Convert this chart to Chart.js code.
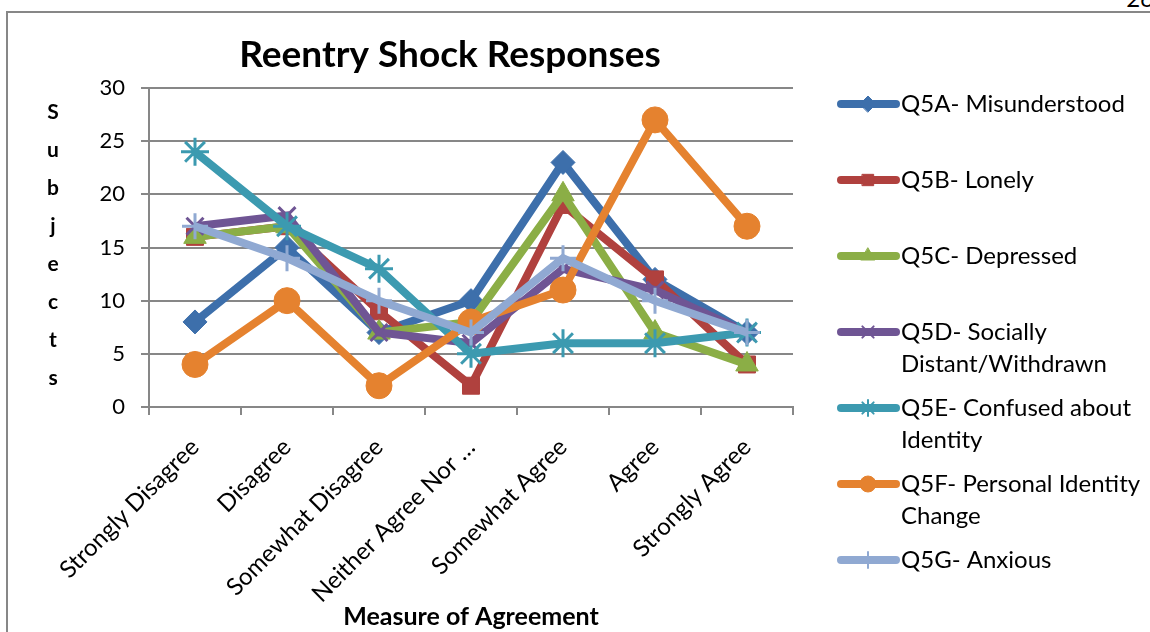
<!DOCTYPE html>
<html>
<head>
<meta charset="utf-8">
<script src="https://cdn.jsdelivr.net/npm/chart.js@4"></script>
<style>
  body { margin: 0; background: #fff; overflow: hidden; }
  #frame { position: absolute; left: 6px; top: 11px; width: 1200px; height: 700px; border: 2px solid #878787; }
  #pg { position: absolute; right: -4px; top: -17px; font: 24px Lato, sans-serif; }
  #wrap { position: absolute; left: 0; top: 0; width: 1150px; height: 632px; }
</style>
</head>
<body>
<div id="frame"></div>
<div id="pg">26</div>
<div id="wrap"><canvas id="c" width="1150" height="632"></canvas></div>
<script>
// values
var categories = ["Strongly Disagree", "Disagree", "Somewhat Disagree", "Neither Agree Nor \u2026", "Somewhat Agree", "Agree", "Strongly Agree"];
var seriesNames = ["Q5A- Misunderstood", "Q5B- Lonely", "Q5C- Depressed", "Q5D- Socially Distant/Withdrawn", "Q5E- Confused about Identity", "Q5F- Personal Identity Change", "Q5G- Anxious"];
var q5a = [8, 15, 7, 10, 23, 12, 7];
var q5b = [16, 17, 9, 2, 19, 12, 4];
var q5c = [16, 17, 7, 8, 20, 7, 4];
var q5d = [17, 18, 7, 6, 13, 11, 7];
var q5e = [24, 17, 13, 5, 6, 6, 7];
var q5f = [4, 10, 2, 8, 11, 27, 17];
var q5g = [17, 14, 10, 7, 14, 10, 7];
var yTicks = [0, 5, 10, 15, 20, 25, 30];
var chartTitle = "Reentry Shock Responses";
var yTitle = "Subjects";
var xTitle = "Measure of Agreement";

var colors = ["#3d6fab", "#b0413e", "#8bae46", "#6f5594", "#3c9ab0", "#e5822f", "#90a9d2"];
var styles = ["rectRot", "rect", "triangle", "crossRot", "star", "circle", "cross"];
var radii = [12, 12, 13, 12, 14, 13, 13];
var allData = [q5a, q5b, q5c, q5d, q5e, q5f, q5g];
var FONT = "Lato, sans-serif";

var datasets = [];
for (var i = 0; i < allData.length; i++) {
  var open = styles[i] == "crossRot" || styles[i] == "star" || styles[i] == "cross";
  datasets.push({
    label: seriesNames[i],
    data: allData[i],
    borderColor: colors[i],
    backgroundColor: colors[i],
    borderWidth: 8,
    pointStyle: styles[i],
    pointRadius: radii[i],
    pointHoverRadius: radii[i],
    pointBorderWidth: open ? 3 : 1,
    pointBorderColor: colors[i],
    pointBackgroundColor: colors[i],
    tension: 0,
    order: allData.length - i
  });
}

function wrapText(ctx, text, maxW) {
  var words = text.split(" ");
  var lines = [];
  var cur = "";
  words.forEach(function(w) {
    var t = cur ? cur + " " + w : w;
    if (ctx.measureText(t).width > maxW && cur) {
      lines.push(cur);
      cur = w;
    } else {
      cur = t;
    }
  });
  if (cur) lines.push(cur);
  return lines;
}

var extras = {
  id: "extras",
  afterDraw: function(chart) {
    var ctx = chart.ctx;
    ctx.save();
    ctx.fillStyle = "#000";
    ctx.textAlign = "center";
    ctx.textBaseline = "middle";
    ctx.font = "bold 37px " + FONT;
    ctx.fillText(chartTitle, 450, 55);

    ctx.font = "bold 21px " + FONT;
    yTitle.split("").forEach(function(ch, k) {
      ctx.fillText(ch, 53, 112 + k * 38);
    });

    // legend
    ctx.font = "24px " + FONT;
    for (var k = 0; k < seriesNames.length; k++) {
      var y = 104 + k * 76;
      ctx.strokeStyle = colors[k];
      ctx.lineWidth = 8;
      ctx.lineCap = "round";
      ctx.beginPath();
      ctx.moveTo(841, y);
      ctx.lineTo(896, y);
      ctx.stroke();
      ctx.fillStyle = colors[k];
      ctx.lineWidth = (styles[k] == "crossRot" || styles[k] == "star" || styles[k] == "cross") ? 2 : 1;
      Chart.helpers.drawPoint(ctx, { pointStyle: styles[k], radius: 8, rotation: 0, borderWidth: ctx.lineWidth }, 868, y);
      ctx.fillStyle = "#000";
      ctx.textAlign = "left";
      var lines = wrapText(ctx, seriesNames[k], 248);
      lines.forEach(function(l, j) {
        ctx.fillText(l, 901, y + j * 32);
      });
    }
    ctx.restore();
  }
};

new Chart(document.getElementById("c"), {
  type: "line",
  data: { labels: categories, datasets: datasets },
  options: {
    responsive: false,
    animation: false,
    layout: { padding: { left: 89, right: 357, top: 88, bottom: 0 } },
    plugins: { legend: { display: false }, tooltip: { enabled: false } },
    scales: {
      x: {
        offset: true,
        afterFit: function(s) { s.height = 225; },
        grid: { offset: true, drawOnChartArea: false, tickLength: 8, color: "#878787", lineWidth: 2 },
        border: { color: "#878787", width: 2 },
        ticks: { minRotation: 45, maxRotation: 45, autoSkip: false, padding: 18, color: "#000", font: { family: FONT, size: 24 } },
        title: { display: true, text: xTitle, color: "#000", font: { family: FONT, size: 25, weight: "bold" }, padding: { top: 0, bottom: 0 } }
      },
      y: {
        min: yTicks[0],
        max: yTicks[yTicks.length - 1],
        afterFit: function(s) { s.width = 60; },
        afterBuildTicks: function(s) { s.ticks = yTicks.map(function(v) { return { value: v }; }); },
        grid: { color: "#878787", lineWidth: 2, tickLength: 8 },
        border: { color: "#878787", width: 2 },
        ticks: { padding: 16, color: "#000", font: { family: FONT, size: 22 } }
      }
    }
  },
  plugins: [extras]
});
</script>
</body>
</html>
